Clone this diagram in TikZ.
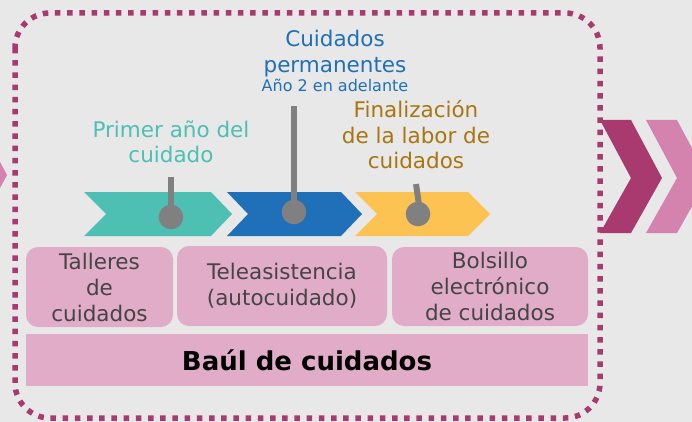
\documentclass[tikz,border=0pt]{standalone}
\usepackage{fontspec}
\setmainfont{DejaVu Sans}
\usepackage{tikz}

\definecolor{fondo}{RGB}{232,232,232}
\definecolor{magenta}{RGB}{168,58,112}
\definecolor{rosaclaro}{RGB}{212,131,174}
\definecolor{rosacaja}{RGB}{224,172,200}
\definecolor{turquesa}{RGB}{77,191,179}
\definecolor{azul}{RGB}{31,112,184}
\definecolor{amarillo}{RGB}{253,195,82}
\definecolor{ocre}{RGB}{168,118,16}
\definecolor{textogris}{RGB}{69,69,69}
\definecolor{alfiler}{RGB}{128,128,128}

\tikzset{
  caja/.style={fill=rosacaja, rounded corners=12pt, inner sep=0pt, align=center,
    text=textogris, font=\fontsize{21.5}{26}\selectfont},
  etiqueta/.style={inner sep=0pt, align=center, font=\fontsize{21.5}{25.5}\selectfont},
  palo/.style={alfiler, line width=6pt}
}

\begin{document}
\begin{tikzpicture}[x=1pt,y=-1pt]
  \useasboundingbox (0,0) rectangle (692,422);
  \clip (0,0) rectangle (692,422);
  \fill[fondo] (0,0) rectangle (692,422);

  % flechas de fuera
  \fill[rosaclaro] (-60,117) -- (-24,117) -- (7,175) -- (-24,233) -- (-60,233) -- cycle;
  \fill[magenta] (600,120) -- (631,120) -- (662,178) -- (631,233) -- (600,233) -- (631,178) -- cycle;
  \fill[rosaclaro] (646,120) -- (677,120) -- (708,178) -- (677,233) -- (646,233) -- (677,178) -- cycle;

  % linea de tiempo
  \fill[turquesa] (84,192) -- (211,192) -- (232,214) -- (211,236) -- (84,236) -- (106,214) -- cycle;
  \fill[azul] (227,192) -- (341,192) -- (362,214) -- (341,236) -- (227,236) -- (248,214) -- cycle;
  \fill[amarillo] (355,192) -- (468,192) -- (490,214) -- (468,236) -- (355,236) -- (377,214) -- cycle;

  \draw[palo] (171,177) -- (171,210);
  \fill[alfiler] (171,217) circle (12.3);
  \draw[palo] (294,106) -- (294,205);
  \fill[alfiler] (294,212) circle (12.3);
  \draw[palo] (416,184) -- (419,205);
  \fill[alfiler] (418,214) circle (12.3);

  \node[etiqueta, text=turquesa] (primer) at (171,142) {Primer año del\\cuidado};
  \node[etiqueta, text=azul] (permanentes) at (335,53.5) {Cuidados\\permanentes};
  \node[inner sep=0pt, text=azul, anchor=base, font=\fontsize{16}{19}\selectfont] (anio) at (335,92) {Año 2 en adelante};
  \node[etiqueta, text=ocre] (final) at (416,135) {Finalización\\de la labor de\\cuidados};

  % cajas
  \node[caja, minimum width=147pt, minimum height=80pt] (talleres) at (99.5,287) {Talleres\\de\\cuidados};
  \node[caja, minimum width=210pt, minimum height=80pt] (tele) at (282,286) {Teleasistencia\\(autocuidado)};
  \node[caja, minimum width=196pt, minimum height=79pt] (bolsillo) at (490,286.5) {Bolsillo\\electrónico\\de cuidados};
  \node[fill=rosacaja, minimum width=562pt, minimum height=52pt, inner sep=0pt,
    font=\fontsize{26}{31}\selectfont\bfseries] (baul) at (307,360) {Baúl de cuidados};

  % borde punteado
  \draw[magenta, line width=5.5pt, dash pattern=on 5.5pt off 6.7pt, rounded corners=35pt]
    (15,13) rectangle (600,418);
\end{tikzpicture}
\end{document}
